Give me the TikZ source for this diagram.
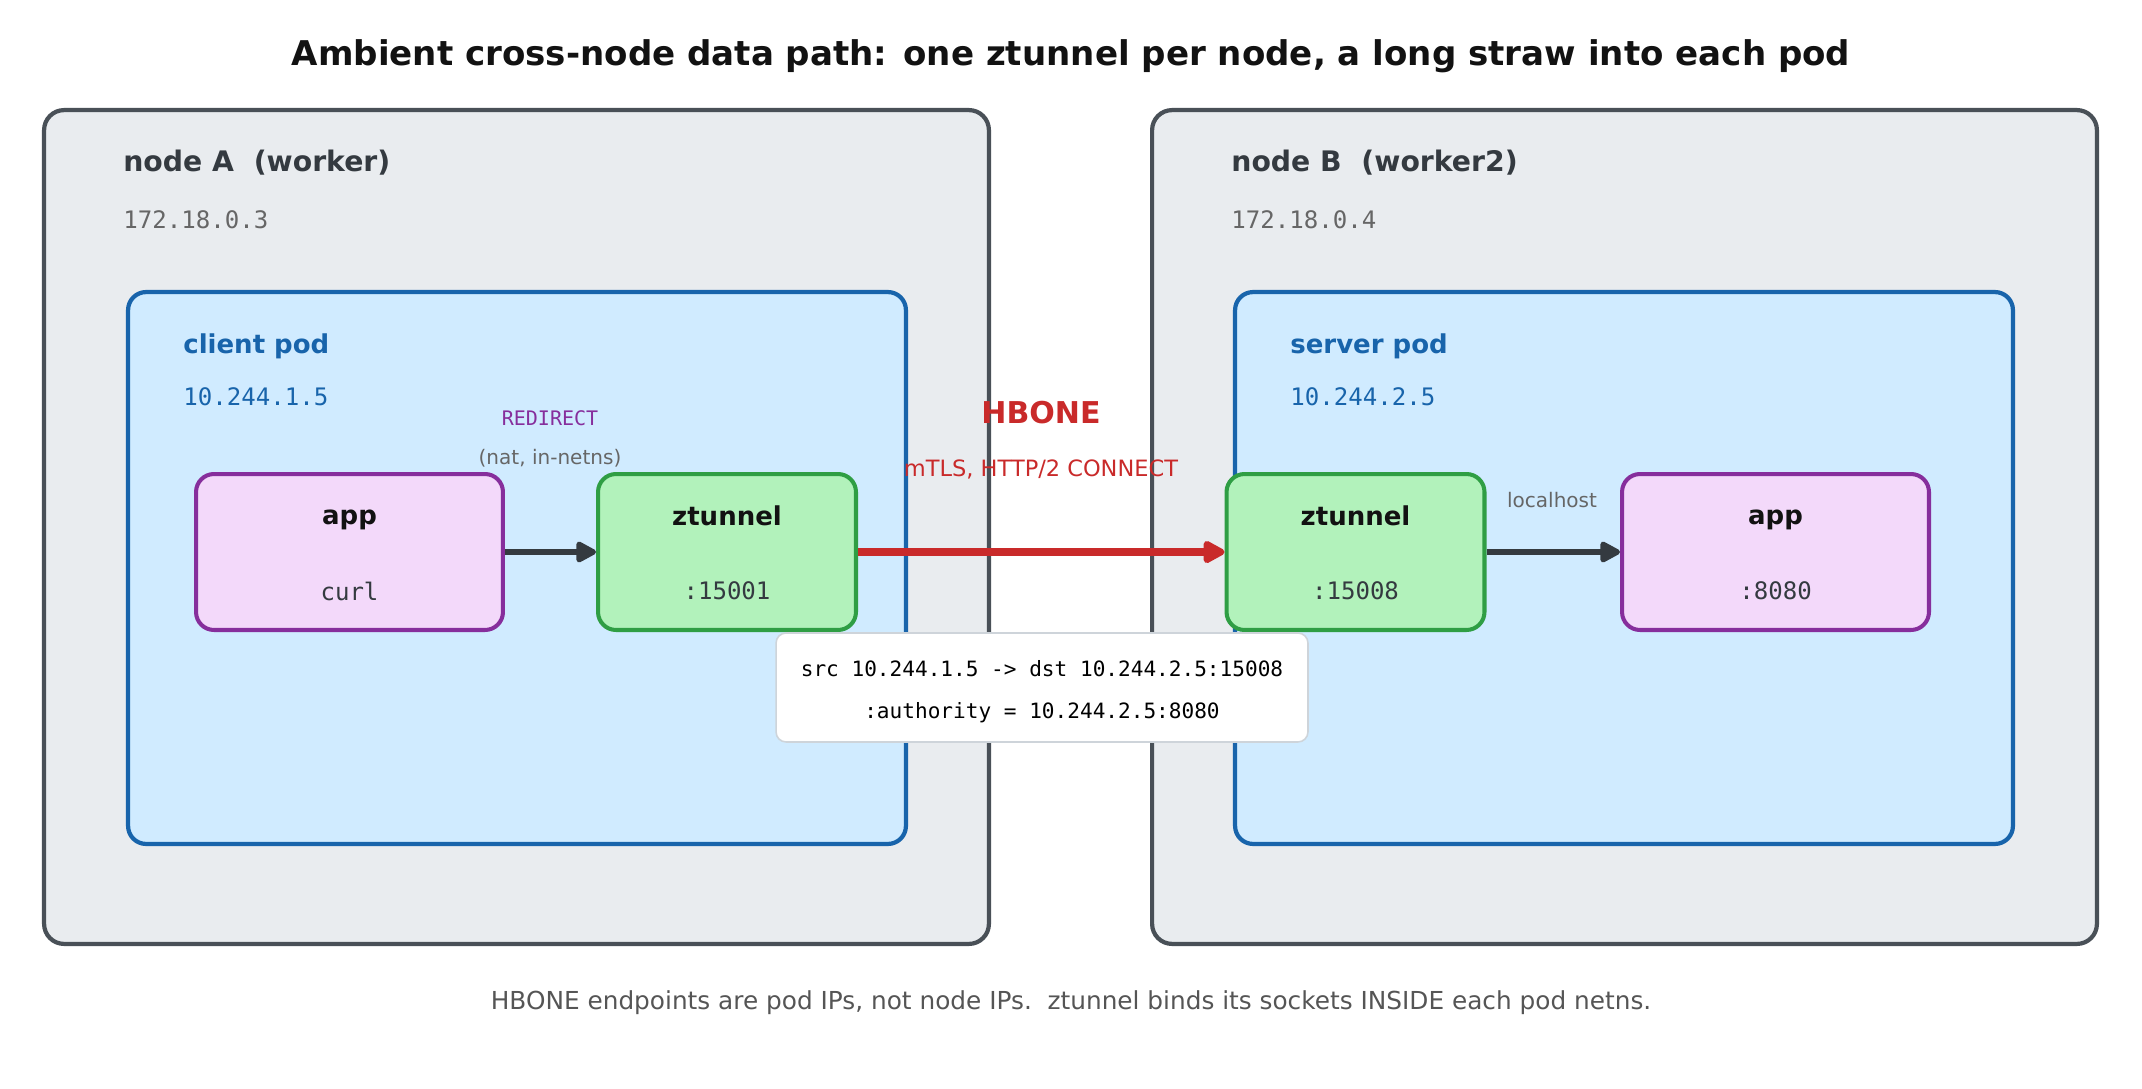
\documentclass[tikz,border=0pt]{standalone}
\usepackage{fontspec}
\setmainfont{DejaVu Sans}
\setmonofont{DejaVu Sans Mono}
\usetikzlibrary{arrows.meta}

\definecolor{nodeedge}{HTML}{495057}
\definecolor{nodefill}{HTML}{E9ECEF}
\definecolor{podedge}{HTML}{1864AB}
\definecolor{podfill}{HTML}{D0EBFF}
\definecolor{appedge}{HTML}{862E9C}
\definecolor{appfill}{HTML}{F3D9FA}
\definecolor{ztedge}{HTML}{2F9E44}
\definecolor{ztfill}{HTML}{B2F2BB}
\definecolor{darkline}{HTML}{343A40}
\definecolor{hbonered}{HTML}{C92A2A}
\definecolor{infoedge}{HTML}{CED4DA}
\definecolor{softgray}{HTML}{666666}
\definecolor{footgray}{HTML}{555555}

\begin{document}
\begin{tikzpicture}[
  x=0.02cm, y=-0.02cm,
  nodebox/.style={rectangle, rounded corners=0.4cm, draw=nodeedge, fill=nodefill, line width=2.4pt,
                  minimum width=18.9cm, minimum height=16.68cm, inner sep=0pt},
  podbox/.style={rectangle, rounded corners=0.36cm, draw=podedge, fill=podfill, line width=2.4pt,
                 minimum width=15.56cm, minimum height=11.04cm, inner sep=0pt},
  appbox/.style={rectangle, rounded corners=0.36cm, draw=appedge, fill=appfill, line width=2.3pt,
                 minimum width=6.14cm, minimum height=3.12cm, inner sep=0pt},
  ztbox/.style={rectangle, rounded corners=0.36cm, draw=ztedge, fill=ztfill, line width=2.3pt,
                minimum width=5.16cm, minimum height=3.12cm, inner sep=0pt},
  infobox/.style={rectangle, rounded corners=0.2cm, draw=infoedge, fill=white, line width=0.9pt,
                  minimum width=10.64cm, minimum height=2.18cm, inner sep=0pt},
  infotext/.style={align=center, inner sep=0pt, font=\fontsize{12}{23.9}\selectfont\ttfamily},
  hdr/.style={anchor=west, inner sep=0pt, font=\fontsize{14.8}{18}\selectfont\bfseries},
  ipaddr/.style={anchor=west, inner sep=0pt, font=\fontsize{13.7}{16}\selectfont\ttfamily},
  boxname/.style={inner sep=0pt, font=\fontsize{14.8}{18}\selectfont\bfseries, text=black!93},
  boxport/.style={inner sep=0pt, font=\fontsize{13.7}{16}\selectfont\ttfamily, text=darkline},
  small/.style={inner sep=0pt, font=\fontsize{11.4}{14}\selectfont, text=softgray},
  arrow/.style={-{Triangle[length=13pt, width=13pt, round]}, line width=3pt, darkline},
  hbonearrow/.style={-{Triangle[length=14pt, width=14pt, round]}, line width=4pt, hbonered}
]
\useasboundingbox (0,0) rectangle (2142,1088);

% titolo
\node[font=\fontsize{19.4}{23}\selectfont\bfseries, text=black!93] (title) at (1071,56)
  {Ambient cross-node data path: one ztunnel per node, a long straw into each pod};

% nodi
\node[nodebox] (nodeA) at (516.5,527) {};
\node[nodebox] (nodeB) at (1624.5,527) {};
\node[hdr, text=darkline, font=\fontsize{16.1}{19}\selectfont\bfseries] (nodeAname) at (123,163) {node A~~(worker)};
\node[ipaddr, text=softgray] (nodeAip) at (123,220) {172.18.0.3};
\node[hdr, text=darkline, font=\fontsize{16.1}{19}\selectfont\bfseries] (nodeBname) at (1231,163) {node B~~(worker2)};
\node[ipaddr, text=softgray] (nodeBip) at (1231,220) {172.18.0.4};

% pod
\node[podbox] (podA) at (517,568) {};
\node[podbox] (podB) at (1624,568) {};
\node[hdr, text=podedge] (podAname) at (183,346) {client pod};
\node[ipaddr, text=podedge] (podAip) at (183,397) {10.244.1.5};
\node[hdr, text=podedge] (podBname) at (1290,346) {server pod};
\node[ipaddr, text=podedge] (podBip) at (1290,397) {10.244.2.5};

% box
\node[appbox] (appA) at (349.5,552) {};
\node[ztbox]  (ztA)  at (727,552) {};
\node[ztbox]  (ztB)  at (1355.5,552) {};
\node[appbox] (appB) at (1775.5,552) {};

\node[boxname] (appAname) at (349.5,520) {app};
\node[boxport] (appAport) at (349.5,591) {curl};
\node[boxname] (ztAname) at (727,516) {ztunnel};
\node[boxport] (ztAport) at (727,591) {:15001};
\node[boxname] (ztBname) at (1355.5,516) {ztunnel};
\node[boxport] (ztBport) at (1355.5,591) {:15008};
\node[boxname] (appBname) at (1775.5,520) {app};
\node[boxport] (appBport) at (1775.5,591) {:8080};

% frecce
\draw[arrow] (appA) -- (ztA);
\draw[hbonearrow] (ztA) -- (ztB);
\draw[arrow] (ztB) -- (appB);

% etichette
\node[inner sep=0pt, font=\fontsize{11.4}{14}\selectfont\ttfamily, text=appedge] (redirect) at (550,418) {REDIRECT};
\node[small] (natnetns) at (550,458) {(nat, in-netns)};
\node[inner sep=0pt, font=\fontsize{17.1}{20}\selectfont\bfseries, text=hbonered] (hbone) at (1041,413) {HBONE};
\node[inner sep=0pt, font=\fontsize{12.8}{15}\selectfont, text=hbonered] (mtls) at (1041,469) {mTLS, HTTP/2 CONNECT};
\node[small] (localhost) at (1552,500) {localhost};

\node[infobox] (info) at (1042,687.5) {};
\node[infotext] (infolines) at (1042,692)
  {src 10.244.1.5 -> dst 10.244.2.5:15008\\:authority = 10.244.2.5:8080};

\node[inner sep=0pt, font=\fontsize{14.1}{17}\selectfont, text=footgray] (footer) at (1071,1003)
  {HBONE endpoints are pod IPs, not node IPs.~~ztunnel binds its sockets INSIDE each pod netns.};
\end{tikzpicture}
\end{document}
